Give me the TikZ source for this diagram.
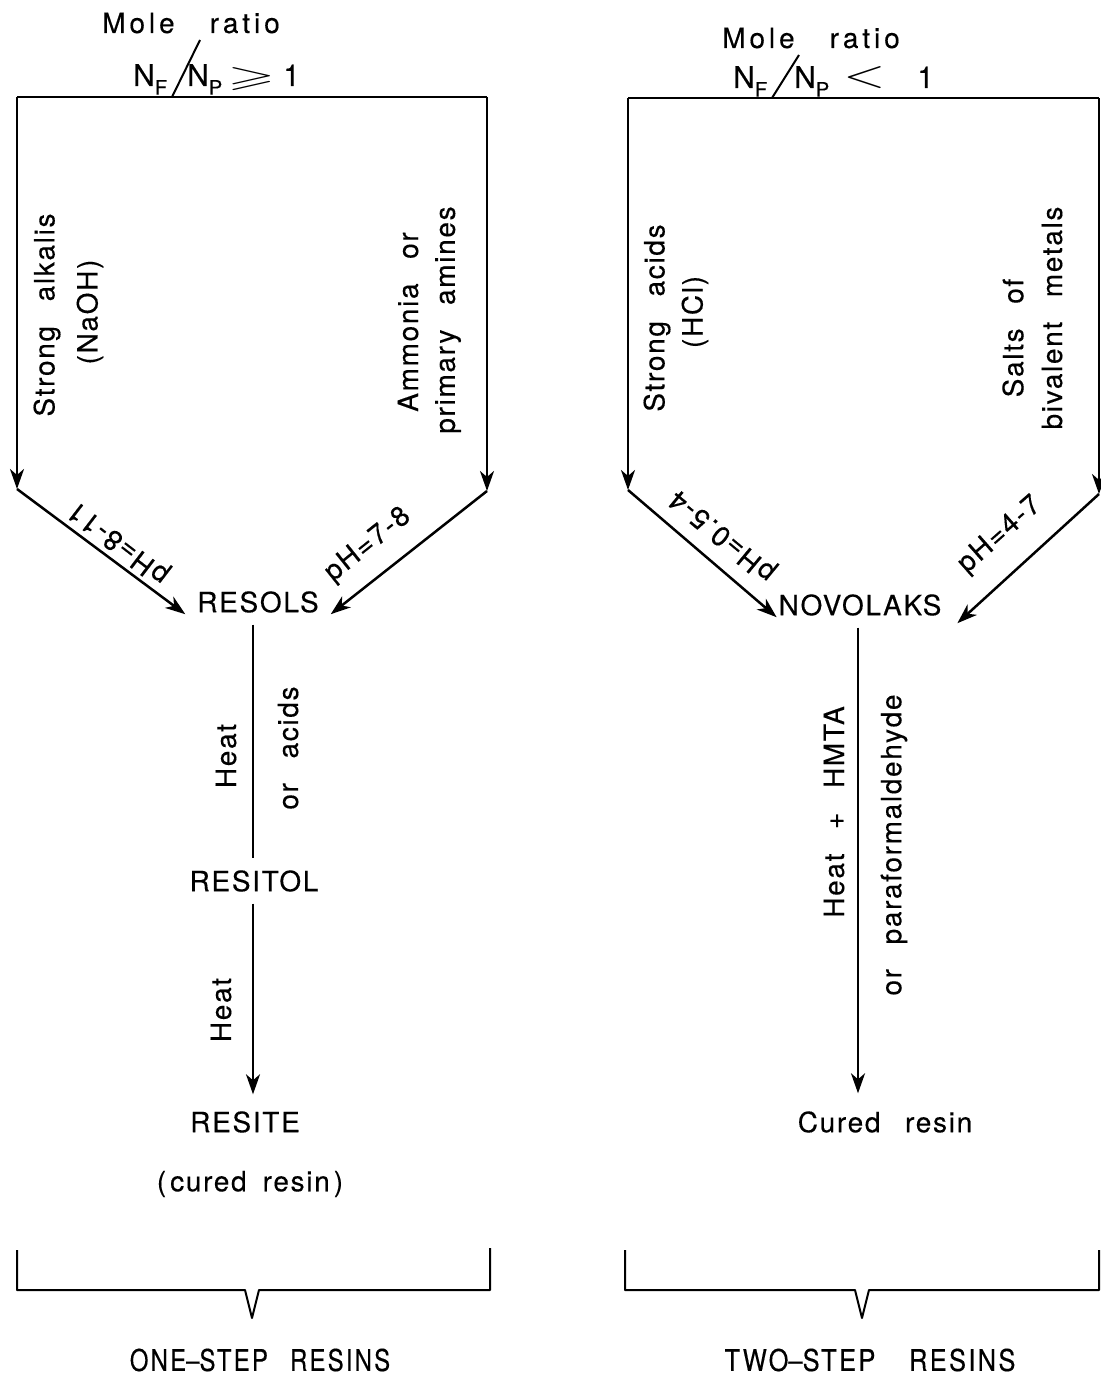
\documentclass[tikz,border=0pt]{standalone}
\usepackage{amssymb}
\usepackage{graphicx}
\usepackage{fontspec}
\setmainfont{TeX Gyre Heros}[LetterSpace=6, WordSpace=2.6, FakeBold=0.3]
\newfontfamily\hdrfont{TeX Gyre Heros}[LetterSpace=14, WordSpace=3, FakeBold=0.3]
\newfontfamily\footfont{TeX Gyre Heros}[LetterSpace=9, WordSpace=2.5, FakeBold=0.3]
\newfontfamily\plainfont{TeX Gyre Heros}[FakeBold=0.3]
\usetikzlibrary{arrows.meta}

\newcommand{\subx}[1]{\raisebox{-0.55ex}{\plainfont\fontsize{10}{11}\selectfont #1}}

\begin{document}
\begin{tikzpicture}[x=0.5pt, y=-0.5pt, line width=1.25pt,
  txt/.style={font=\fontsize{14}{16}\selectfont, inner sep=0pt},
  chem/.style={txt, outer sep=6pt},
  vert/.style={txt, rotate=90},
  arr/.style={-{Stealth[length=10pt, width=7pt, inset=3pt]}},
  hdr/.style={font=\hdrfont\fontsize{14}{16}\selectfont, inner sep=0pt},
  sym/.style={font=\plainfont\fontsize{15}{17}\selectfont, inner sep=0pt, anchor=base west},
  foot/.style={font=\footfont\fontsize{15}{17}\selectfont, inner sep=0pt}]
\useasboundingbox (0,0) rectangle (1101,1375);

% ---------------- one-step (resol) branch ----------------
\node[hdr] (moleA) at (191,23) {Mole ratio};
\node[sym] (nfA) at (132,86) {N\subx{F}};
\node[sym] (npA) at (186,86) {N\subx{P}};
\node[sym] (geA) at (226,87) {\resizebox*{24pt}{11.5pt}{$\geqslant$}};
\node[sym] (oneA) at (282,86) {1};
\coordinate (topAL) at (17,97);
\coordinate (topAR) at (487,97);
\coordinate (slashA) at (172,97);
\coordinate (slashAtop) at (200,40);
\draw (topAL) -- (topAR);
\draw[line width=1pt] (slashA) -- (slashAtop);

\coordinate (cornAL) at (17,489);
\coordinate (cornAR) at (487,491);
\draw[arr] (topAL) -- (cornAL);
\draw[arr] (topAR) -- (cornAR);

\node[vert] (alk) at (47,315) {Strong alkalis};
\node[vert] (naoh) at (90,312) {(NaOH)};
\node[vert] (amm) at (408,322) {Ammonia or};
\node[vert] (amin) at (448,320) {primary amines};

\node[chem] (resols) at (258,602) {RESOLS};
\draw[arr] (cornAL) -- ([yshift=-1pt]resols.base west);
\draw[arr] (cornAR) -- ([yshift=-1pt]resols.base east);
\node[txt, rotate=142.5] (phA) at (119,542) {pH=8-11};
\node[txt, rotate=38.6] (phB) at (368,545) {pH=7-8};

\node[chem] (resitol) at (254,881) {RESITOL};
\draw (resols.south -| 253,0) -- (resitol.north -| 253,0);
\node[vert] (heatA) at (226,756) {Heat};
\node[vert] (acids) at (288,748) {or acids};

\node[chem] (resite) at (245,1122) {RESITE};
\draw[arr] (resitol.south -| 253,0) -- ([yshift=2.5pt]resite.north -| 253,0);
\node[vert] (heatB) at (221,1010) {Heat};
\node[txt] (curedA) at (250,1184) {(\hspace{2pt}cured\hspace{8pt}resin\hspace{2pt})};

\coordinate (brAL) at (17,1250);
\coordinate (brAR) at (490,1248);
\coordinate (brAtip) at (252,1318);
\draw[line width=1pt, line join=round] (brAL) -- (17,1290) -- (245,1290) -- (brAtip) -- (259,1290) -- (490,1290) -- (brAR);
\node[foot] (oneS) at (260,1360) {\scalebox{0.8}[1]{ONE{\plainfont –}STEP RESINS}};

% ---------------- two-step (novolak) branch ----------------
\node[hdr] (moleB) at (811,38) {Mole ratio};
\node[sym] (nfB) at (732,88) {N\subx{F}};
\node[sym] (npB) at (793,88) {N\subx{P}};
\node[sym] (ltB) at (842,88) {\resizebox*{21pt}{11pt}{$<$}};
\node[sym] (oneB) at (916,88) {1};
\coordinate (topBL) at (628,98);
\coordinate (topBR) at (1099,98);
\coordinate (slashB) at (772,98);
\coordinate (slashBtop) at (799,55);
\draw (topBL) -- (topBR);
\draw[line width=1pt] (slashB) -- (slashBtop);

\coordinate (cornBL) at (628,490);
\coordinate (cornBR) at (1099,494);
\draw[arr] (topBL) -- (cornBL);
\draw[arr] (topBR) -- (cornBR);

\node[vert] (acid) at (657,318) {Strong acids};
\node[vert] (hcl) at (695,312) {(HCl)};
\node[vert] (salts) at (1013,338) {Salts of};
\node[vert] (metal) at (1052,318) {bivalent metals};

\node[chem] (novo) at (860,605) {NOVOLAKS};
\draw[arr] (cornBL) -- ([xshift=5pt,yshift=-1pt]novo.base west);
\draw[arr] (cornBR) -- ([xshift=2pt,yshift=-4pt]novo.base east);
\node[txt, rotate=140.3] (phC) at (723,535) {pH=0.5-4};
\node[txt, rotate=41.3] (phD) at (1000,535) {pH=4-7};

\node[chem] (cured) at (885,1122) {Cured resin};
\draw[arr] (novo.south -| 858,0) -- ([yshift=3pt]cured.north -| 858,0);
\node[vert] (hmta) at (834,812) {Heat + HMTA};
\node[vert] (para) at (894,845) {or paraformaldehyde};

\coordinate (brBL) at (625,1250);
\coordinate (brBR) at (1099,1250);
\coordinate (brBtip) at (862,1318);
\draw[line width=1pt, line join=round] (brBL) -- (625,1290) -- (855,1290) -- (brBtip) -- (869,1290) -- (1099,1290) -- (brBR);
\node[foot] (twoS) at (870,1360) {\scalebox{0.85}[1]{TWO{\plainfont –}STEP\hspace{0.4em} RESINS}};
\end{tikzpicture}
\end{document}
